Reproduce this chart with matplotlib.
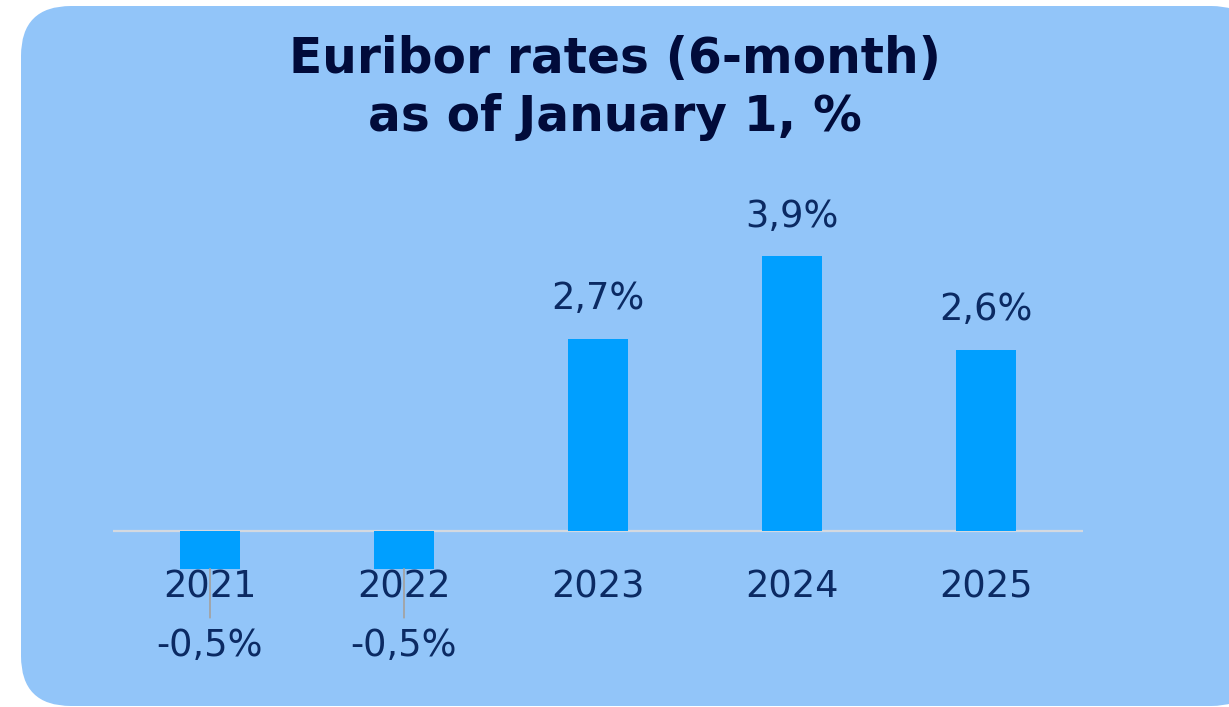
import numpy as np
import matplotlib.pyplot as plt
from matplotlib.patches import FancyBboxPatch

years = ['2021', '2022', '2023', '2024', '2025']
rates = [-0.54, -0.54, 2.72, 3.89, 2.57]
title_lines = ['Euribor rates (6-month)', 'as of January 1, %']

bg_col = '#92C5F9'
bar_col = '#009FFF'
text_col = '#0B2A63'
title_col = '#010B3A'

W, H = 1229, 707
fig = plt.figure(figsize=(W / 100, H / 100), dpi=100, facecolor='white')

# rounded light-blue card behind everything
bg = fig.add_axes([0, 0, 1, 1])
bg.set_xlim(0, W)
bg.set_ylim(H, 0)
bg.axis('off')
bg.add_patch(FancyBboxPatch((21, 6), 1240, 700, boxstyle='round,pad=0,rounding_size=50',
                            facecolor=bg_col, edgecolor='none'))

# plot area: x 113..1083 px, y 150..700 px
ax = fig.add_axes([113 / W, (H - 700) / H, 970 / W, 550 / H])
ax.set_facecolor('none')
x = np.arange(len(years))
ax.bar(x, rates, width=0.314, color=bar_col, zorder=2)
ax.axhline(0, color='#D4D9E0', lw=1.6, zorder=1)
ax.set_xlim(-0.5, len(years) - 0.5)
ax.set_ylim(-2.4, 5.4)
ax.axis('off')

for xi, yr, v in zip(x, years, rates):
    ax.annotate(yr, (xi, 0), xytext=(0, -40.5), textcoords='offset points',
                ha='center', va='center', fontsize=26.5, color=text_col, zorder=3)
    lab = f'{v:.1f}%'.replace('.', ',')
    if v >= 0:
        ax.annotate(lab, (xi, v), xytext=(0, 21.5), textcoords='offset points',
                    ha='center', va='baseline', fontsize=26.5, color=text_col)
    else:
        ax.annotate(lab, (xi, v), xytext=(0, -55.5), textcoords='offset points',
                    ha='center', va='center', fontsize=26.5, color=text_col,
                    arrowprops=dict(arrowstyle='-', color='#A3A3A3', lw=1.3,
                                    shrinkA=5, shrinkB=0))

fig.text(615 / W, 1 - 73 / H, title_lines[0], ha='center', va='baseline',
         fontsize=35, fontweight='bold', color=title_col)
fig.text(615 / W, 1 - 131 / H, title_lines[1], ha='center', va='baseline',
         fontsize=35, fontweight='bold', color=title_col)

fig.savefig('out.png', dpi=100, facecolor='white')
